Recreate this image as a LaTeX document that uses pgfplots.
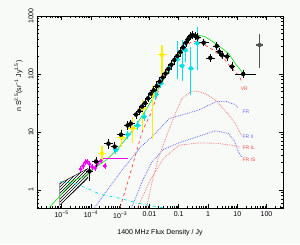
\documentclass[border=0pt]{standalone}
\usepackage{fontspec}
\setmainfont{Liberation Sans}
\usepackage{pgfplots}
\pgfplotsset{compat=1.18}
\usepackage{pgfplotstable}
\usetikzlibrary{patterns}
\definecolor{bgc}{RGB}{247,250,247}
\definecolor{cgreen}{RGB}{40,225,40}
\definecolor{cred}{RGB}{240,70,70}
\definecolor{cpink}{RGB}{245,125,125}
\definecolor{cblue}{RGB}{105,105,240}
\definecolor{ccyan}{RGB}{0,225,230}
\definecolor{cyel}{RGB}{250,240,0}
\definecolor{cmag}{RGB}{240,0,240}
\definecolor{cgrey}{RGB}{85,85,85}

\pgfplotstableread{
x y xp xm yp ym
9e-5 2.1 0.35 0.26 0.38 0.33
1.5e-4 3.1 0.35 0.26 0.2 0.18
4.0e-4 6.3 0.4 0.28 0.2 0.18
6.5e-4 5.6 0.35 0.26 0.2 0.18
1.07e-3 9 0.35 0.26 0.2 0.18
1.8e-3 13 0.35 0.26 0.17 0.15
2.3e-3 14 0.35 0.26 0.17 0.15
3.5e-3 20 0.3 0.23 0.17 0.15
4.5e-3 23 0.3 0.23 0.17 0.15
5.6e-3 27.5 0.3 0.23 0.17 0.15
7.1e-3 31.6 0.3 0.23 0.17 0.15
8.9e-3 38 0.3 0.23 0.17 0.15
0.0112 45.7 0.3 0.23 0.17 0.15
0.0141 52.5 0.3 0.23 0.17 0.15
0.0178 61.7 0.3 0.23 0.17 0.15
0.0224 74 0.3 0.23 0.17 0.15
0.0282 87 0.3 0.23 0.17 0.15
0.0355 102 0.3 0.23 0.17 0.15
0.0447 123 0.3 0.23 0.17 0.15
0.0562 145 0.3 0.23 0.17 0.15
0.0708 174 0.3 0.23 0.17 0.15
0.0891 204 0.3 0.23 0.17 0.15
0.112 240 0.3 0.23 0.17 0.15
0.141 288 0.3 0.23 0.17 0.15
0.178 347 0.3 0.23 0.17 0.15
0.209 398 0.3 0.23 0.17 0.15
0.251 447 0.3 0.23 0.17 0.15
0.302 468 0.3 0.23 0.17 0.15
0.363 457 0.3 0.23 0.17 0.15
0.437 427 0.3 0.23 0.17 0.15
0.72 346 0.5 0.3 0.15 0.13
1.2 190 0.5 0.3 0.17 0.15
2.0 304 0.3 0.23 0.17 0.15
2.45 242 0.3 0.23 0.17 0.15
3.0 213 0.3 0.23 0.17 0.15
4.5 200 0.3 0.23 0.17 0.15
6.6 134 0.3 0.23 0.2 0.17
16 100 1.8 0.47 0.17 0.15
}\bk

\pgfplotstableread{
x y xp xm yp ym
58 316 0.29 0.22 0.55 0.6
}\gr

\pgfplotstableread{
x y xp xm yp ym
2.4e-4 4.3 0.42 0.29 0.35 0.23
1.15e-3 8.0 0.4 0.3 0.4 0.31
2.7e-3 11.5 0.4 0.3 0.57 0.43
5.9e-3 25.6 0.4 0.3 0.37 0.58
0.013 44 0.3 0.25 0.45 0.83
0.027 214 0.48 0.26 0.48 0.56
}\ye

\pgfplotstableread{
x y xp xm yp ym
7.2e-4 4.9 0.3 0.23 0.17 0.15
1.8e-3 9 0.3 0.23 0.17 0.15
4e-3 13 0.3 0.23 0.17 0.15
6.6e-3 18.3 0.3 0.23 0.2 0.17
0.0166 44 0.3 0.23 0.25 0.2
0.0245 69 0.3 0.23 0.2 0.17
0.047 125 0.3 0.23 0.2 0.17
0.09 180 0.25 0.2 1.1 0.55
0.13 138 0.25 0.2 1.83 0.46
0.17 257 0.25 0.2 0.52 0.37
0.26 125 0.25 0.2 1.34 0.65
0.43 339 0.25 0.2 0.94 0.65
}\cy

\pgfplotstableread{
x y xp xm yp ym
4.5e-5 2.3 0.1 0.1 0.12 0.1
5.5e-5 2.6 0.1 0.1 0.12 0.1
6.5e-5 3.0 0.1 0.1 0.12 0.1
7.5e-5 3.1 0.1 0.1 0.12 0.1
9e-5 2.8 0.1 0.1 0.12 0.1
1.1e-4 2.5 0.1 0.1 0.12 0.1
1.4e-4 2.4 0.1 0.1 0.12 0.1
1.7e-4 2.9 0.1 0.1 0.12 0.1
2.2e-4 3.2 0.1 0.1 0.12 0.1
3e-4 2.6 0.1 0.1 0.12 0.1
}\mg

\begin{document}
\begin{tikzpicture}
\fill[bgc] (-37pt,-36pt) rectangle (263pt,208pt);
\begin{axis}[
  at={(0pt,0pt)}, anchor=south west,
  scale only axis, width=246pt, height=192pt,
  xmode=log, ymode=log,
  xmin=1.45e-6, xmax=365, ymin=0.49, ymax=1000,
  xtick={1e-5,1e-4,1e-3,0.01,0.1,1,10,100},
  xticklabels={10\textsuperscript{−5},10\textsuperscript{−4},10\textsuperscript{−3},0.01,0.1,1,10,100},
  minor xtick={2e-6,3e-6,4e-6,5e-6,6e-6,7e-6,8e-6,9e-6,2e-5,3e-5,4e-5,5e-5,6e-5,7e-5,8e-5,9e-5,2e-4,3e-4,4e-4,5e-4,6e-4,7e-4,8e-4,9e-4,2e-3,3e-3,4e-3,5e-3,6e-3,7e-3,8e-3,9e-3,0.02,0.03,0.04,0.05,0.06,0.07,0.08,0.09,0.2,0.3,0.4,0.5,0.6,0.7,0.8,0.9,2,3,4,5,6,7,8,9,20,30,40,50,60,70,80,90,200,300},
  ytick={1,10,100,1000}, yticklabels={1,10,100,1000},
  minor ytick={0.5,0.6,0.7,0.8,0.9,2,3,4,5,6,7,8,9,20,30,40,50,60,70,80,90,200,300,400,500,600,700,800,900},
  tick align=inside,
  major tick length=4pt, minor tick length=2pt,
  every tick/.style={black, line width=0.5pt},
  axis line style={black, line width=0.9pt},
  tick label style={font=\fontsize{7}{8}\selectfont},
  yticklabel style={rotate=90, anchor=south},
  xlabel={1400 MHz Flux Density / Jy},
  ylabel={n S\textsuperscript{2.5}(sr\textsuperscript{−1} Jy\textsuperscript{1.5})},
  label style={font=\fontsize{7}{8}\selectfont},
  xlabel style={at={(axis description cs:0.5,-0.13)}, anchor=center},
  ylabel style={at={(axis description cs:-0.075,0.635)}, anchor=center},
  clip=true,
]
% hatched region
\addplot[draw=black, line width=0.4pt, pattern=north east lines] coordinates {(8.7e-6,1.3)(8e-5,2.35)(8e-5,1.6)(8.7e-6,0.55)} --cycle;

% model curves
\addplot[cblue, densely dotted, line width=0.8pt] coordinates {(1.35e-4,0.5)(1e-3,2)(5e-3,5.5)(0.013,8.5)(0.047,17)(0.49,24)(1.8,33)(4,34)(8,30)(11,26)};
\addplot[cblue, densely dotted, line width=0.8pt] coordinates {(2.5e-3,0.5)(6e-3,1.5)(0.012,3)(0.03,5)(0.1,6.5)(0.5,8.5)(1.78,10.5)(5,9.5)(8,7)(11,4.5)(14.5,3.7)};
\addplot[cpink, densely dotted, line width=0.8pt] coordinates {(4e-3,0.5)(0.01,1.4)(0.03,3.5)(0.1,5.9)(0.49,6.5)(2,6.4)(6.6,5.9)(12.6,5.5)};
\addplot[cpink, densely dotted, line width=0.8pt] coordinates {(0.008,0.5)(0.012,1.3)(0.02,3.5)(0.04,9)(0.08,22)(0.13,38)(0.25,49)(0.4,51)(0.8,46)(1.78,36)(5,20)(8.5,14)(14.5,8.5)};
\addplot[ccyan, dash dot, line width=0.7pt] coordinates {(9e-6,1.4)(3e-5,1.3)(1e-4,1.0)(2e-4,0.85)(7e-4,0.75)(5e-3,0.58)(0.02,0.51)(0.04,0.48)};
\addplot[cred, dashed, line width=0.7pt] coordinates {(1e-3,0.5)(2e-3,1.6)(4e-3,5.5)(6e-3,11)(0.0113,21)(0.02,50)(0.04,120)(0.08,200)(0.15,290)(0.3,370)(0.63,338)(1.5,260)(3.9,173)(6.6,125)(11,96)(14.5,74)};
\addplot[cgreen, line width=0.7pt] coordinates {(3.8e-6,0.5)(1e-5,0.85)(2.5e-5,1.45)(4.2e-5,1.6)(6e-5,1.7)(9e-5,2.0)(1.5e-4,2.5)(3.4e-4,3.3)(8e-4,5)(2.7e-3,10.7)(7.6e-3,24)(0.02,55)(0.05,125)(0.1,200)(0.2,350)(0.3,440)(0.45,470)(0.8,440)(1.78,337)(5,228)(8.5,152)(16,103)};

% data
\addplot[cmag, line width=1.2pt] coordinates {(2.6e-4,3.5)(1.8e-3,3.5)};
\addplot[cmag, only marks, mark=*, mark size=1.8pt, error bars/.cd, x dir=both, y dir=both, x explicit relative, y explicit relative, error mark=none, error bar style={cmag, line width=0.6pt}] table[x=x, y=y, x error plus=xp, x error minus=xm, y error plus=yp, y error minus=ym] {\mg};
\addplot[ccyan, only marks, mark=none, error bars/.cd, x dir=both, y dir=both, x explicit relative, y explicit relative, error mark=none, error bar style={ccyan, line width=1pt}] table[x=x, y=y, x error plus=xp, x error minus=xm, y error plus=yp, y error minus=ym] {\cy};
\addplot[cyel, only marks, mark=none, error bars/.cd, x dir=both, y dir=both, x explicit relative, y explicit relative, error mark=none, error bar style={cyel, line width=1.1pt}] table[x=x, y=y, x error plus=xp, x error minus=xm, y error plus=yp, y error minus=ym] {\ye};
\addplot[black, only marks, mark=none, error bars/.cd, x dir=both, y dir=both, x explicit relative, y explicit relative, error mark=none, error bar style={black, line width=0.6pt}] table[x=x, y=y, x error plus=xp, x error minus=xm, y error plus=yp, y error minus=ym] {\bk};
\addplot[cgrey, only marks, mark=none, error bars/.cd, x dir=both, y dir=both, x explicit relative, y explicit relative, error mark=none, error bar style={cgrey, line width=1.2pt}] table[x=x, y=y, x error plus=xp, x error minus=xm, y error plus=yp, y error minus=ym] {\gr};

% curve labels
\node[anchor=west, inner sep=0pt, text=cred, font=\fontsize{5}{5}\selectfont] at (axis cs:13,56) {VR};
\node[anchor=west, inner sep=0pt, text=cblue, font=\fontsize{5}{5}\selectfont] at (axis cs:15,22) {FR};
\node[anchor=west, inner sep=0pt, text=cblue, font=\fontsize{5}{5}\selectfont] at (axis cs:15,8.2) {FR II};
\node[anchor=west, inner sep=0pt, text=cred, font=\fontsize{5}{5}\selectfont] at (axis cs:15,5.3) {FR IL};
\node[anchor=west, inner sep=0pt, text=cred, font=\fontsize{5}{5}\selectfont] at (axis cs:15,3.3) {FR IS};
\end{axis}
\pgfresetboundingbox
\path (-37pt,-36pt) rectangle (263pt,208pt);
\end{tikzpicture}
\end{document}
